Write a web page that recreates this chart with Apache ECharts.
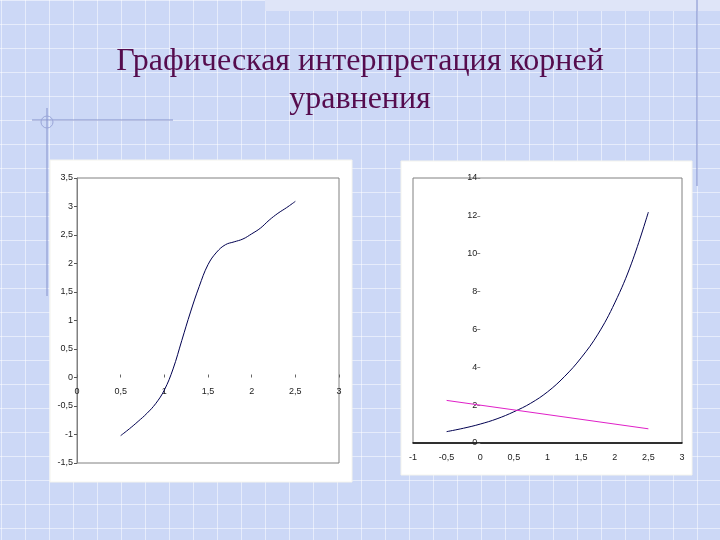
<!DOCTYPE html>
<html>
<head>
<meta charset="utf-8">
<script src="https://cdn.jsdelivr.net/npm/echarts@6/dist/echarts.min.js"></script>
<style>
html,body{margin:0;padding:0;}
body{
  width:720px;height:540px;overflow:hidden;
  background-color:#ccd8f6;
  background-image:
    linear-gradient(to right, rgba(255,255,255,0.5) 1px, transparent 1px),
    linear-gradient(to bottom, rgba(255,255,255,0.5) 1px, transparent 1px);
  background-size:24px 24px;
  background-position:1px 0px;
}
#c{width:720px;height:540px;}
</style>
</head>
<body>
<div id="c"></div>
<script>
// Left chart: curve
const leftX = [0.5,0.6,0.7,0.8,0.9,1.0,1.1,1.2,1.3,1.4,1.5,1.6,1.7,1.8,1.9,2.0,2.1,2.2,2.3,2.4,2.5];
const leftY = [-1.02,-0.90,-0.77,-0.63,-0.46,-0.22,0.15,0.65,1.15,1.60,1.98,2.20,2.33,2.38,2.43,2.52,2.62,2.76,2.88,2.98,3.09];

// Right chart: rising curve and falling straight line
const rightX = [-0.5,-0.25,0,0.25,0.5,0.75,1.0,1.25,1.5,1.75,2.0,2.25,2.5];
const rightCurveY = [0.6,0.78,1.0,1.28,1.65,2.1,2.7,3.5,4.5,5.75,7.4,9.5,12.2];
const lineX = [-0.5, 2.5];
const lineY = [2.25, 0.75];

const titleText = 'Графическая интерпретация корней\nуравнения';

const pairs = (xs, ys) => xs.map((x, i) => [x, ys[i]]);
const comma = v => String(v).replace('.', ',');

const labelStyle = {fontFamily:'Liberation Sans, Arial, sans-serif', fontSize:9, color:'#222'};

const G0 = {left:77, top:178, width:262, height:285};
const G1 = {left:413, top:178, width:269, height:265};

const chart = echarts.init(document.getElementById('c'), null, {renderer:'canvas'});
chart.setOption({
  backgroundColor:'transparent',
  animation:false,
  title:{
    text:titleText,
    left:355, top:38, textAlign:'center',
    textStyle:{fontFamily:'Liberation Serif, Times New Roman, serif', fontSize:32, fontWeight:'normal', color:'#550c4e', lineHeight:38}
  },
  graphic:[
    {type:'rect', shape:{x:265,y:0,width:455,height:11}, style:{fill:'#dfe5f8'}, z:-10},
    {type:'line', shape:{x1:697,y1:0,x2:697,y2:186}, style:{stroke:'#7f8ccc',lineWidth:1}, z:-5},
    {type:'line', shape:{x1:47,y1:108,x2:47,y2:296}, style:{stroke:'#8592cc',lineWidth:1}, z:-5},
    {type:'line', shape:{x1:32,y1:120,x2:173,y2:120}, style:{stroke:'#8592cc',lineWidth:1}, z:-5},
    {type:'circle', shape:{cx:47,cy:122,r:6}, style:{fill:'none',stroke:'#9aa6d8',lineWidth:1}, z:-5},
    {type:'rect', shape:{x:50,y:160,width:302,height:322}, style:{fill:'#ffffff',stroke:'#f4f4ee',lineWidth:1}, z:-4},
    {type:'rect', shape:{x:401,y:161,width:291,height:314}, style:{fill:'#ffffff',stroke:'#f4f4ee',lineWidth:1}, z:-4}
  ],
  grid:[
    Object.assign({show:true, borderColor:'#808080', borderWidth:1, backgroundColor:'transparent'}, G0),
    Object.assign({show:true, borderColor:'#808080', borderWidth:1, backgroundColor:'transparent'}, G1)
  ],
  xAxis:[
    {type:'value', gridIndex:0, min:0, max:3, interval:0.5, position:'bottom', offset:0,
     axisLine:{show:true, onZero:false, lineStyle:{color:'rgba(255,255,255,0)'}},
     axisTick:{show:true, inside:true, length:3, lineStyle:{color:'#666'}},
     axisLabel:{...labelStyle, margin:10, formatter:comma},
     splitLine:{show:false}},
    {type:'value', gridIndex:1, min:-1, max:3, interval:0.5,
     axisLine:{show:true, onZero:true, lineStyle:{color:'#000', width:1.5}},
     axisTick:{show:false},
     axisLabel:{...labelStyle, margin:10, formatter:comma},
     splitLine:{show:false}}
  ],
  yAxis:[
    {type:'value', gridIndex:0, min:-1.5, max:3.5, interval:0.5,
     axisLine:{show:true, onZero:false, lineStyle:{color:'#808080'}},
     axisTick:{show:true, length:3, lineStyle:{color:'#555'}},
     axisLabel:{...labelStyle, margin:4, formatter:comma},
     splitLine:{show:false}},
    {type:'value', gridIndex:1, min:0, max:14, interval:2, position:'left', offset:0,
     axisLine:{show:true, onZero:false, lineStyle:{color:'rgba(255,255,255,0)'}},
     axisTick:{show:true, length:3, lineStyle:{color:'#888'}},
     axisLabel:{...labelStyle, margin:3, formatter:comma},
     splitLine:{show:false}}
  ],
  series:[
    {type:'line', xAxisIndex:0, yAxisIndex:0, data:pairs(leftX, leftY), smooth:0.4, showSymbol:false,
     lineStyle:{color:'#000050', width:1}},
    {type:'line', xAxisIndex:1, yAxisIndex:1, data:pairs(rightX, rightCurveY), smooth:0.4, showSymbol:false,
     lineStyle:{color:'#000050', width:1}},
    {type:'line', xAxisIndex:1, yAxisIndex:1, data:pairs(lineX, lineY), showSymbol:false,
     lineStyle:{color:'#e020c8', width:1}}
  ]
});

// Place the left x axis at y = 0 and the right y axis at x = 0, using the library's scales
const yZeroPx = chart.convertToPixel({yAxisIndex:0}, 0);
const xZeroPx = chart.convertToPixel({xAxisIndex:1}, 0);
chart.setOption({
  xAxis:[{offset: -((G0.top + G0.height) - yZeroPx)}, {}],
  yAxis:[{}, {offset: -(xZeroPx - G1.left)}]
});
</script>
</body>
</html>
